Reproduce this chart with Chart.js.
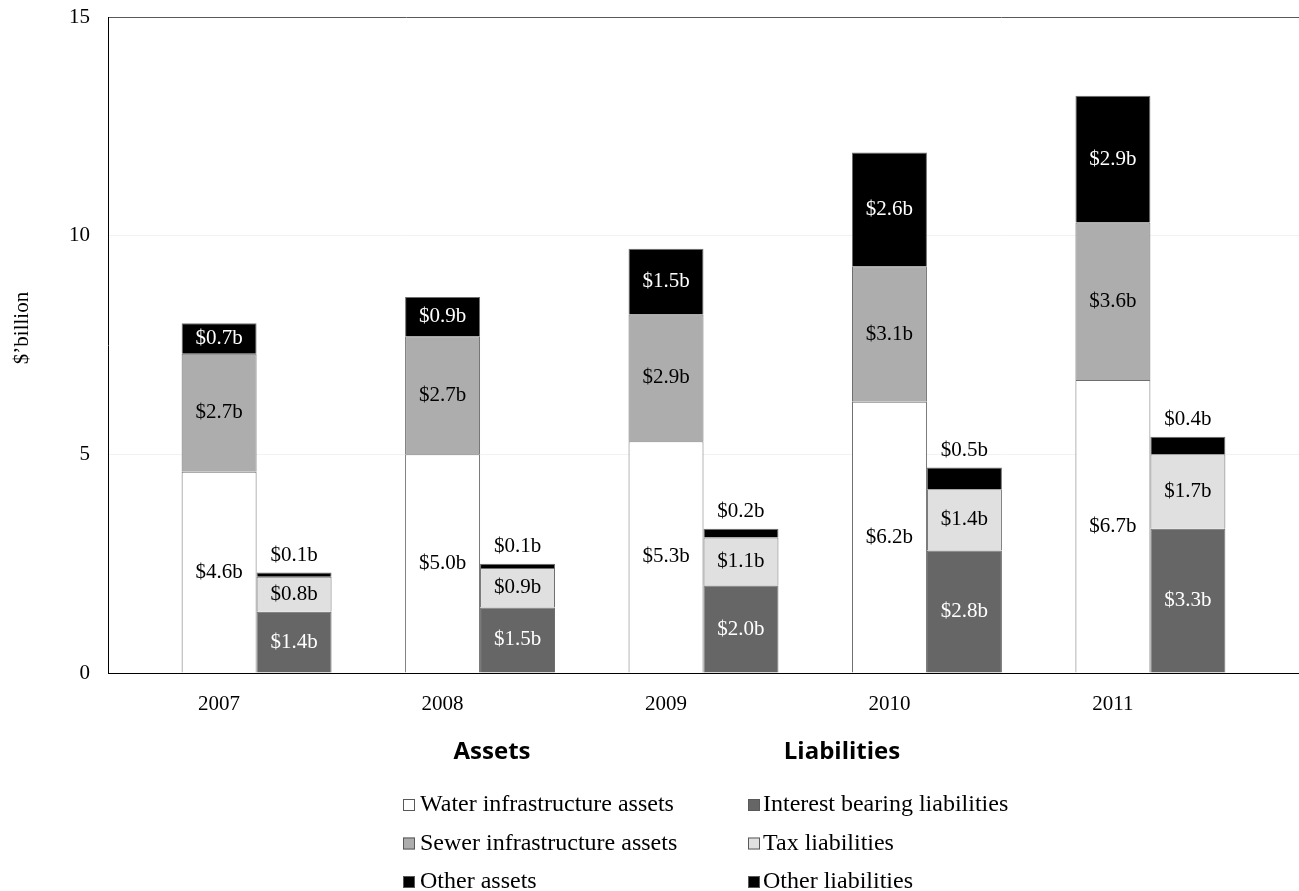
<!DOCTYPE html>
<html>
<head>
<meta charset="utf-8">
<title>Balance sheet 2007-2011</title>
<script src="https://cdn.jsdelivr.net/npm/chart.js@4.4.1/dist/chart.umd.min.js"></script>
<style>
  html, body { margin: 0; padding: 0; background: #fff; }
  canvas { display: block; }
</style>
</head>
<body>
<canvas id="chart" width="1299" height="891"></canvas>
<script>
const years = ['2007', '2008', '2009', '2010', '2011']

// assets, $ billion
const waterAssets = [4.6, 5.0, 5.3, 6.2, 6.7]
const sewerAssets = [2.7, 2.7, 2.9, 3.1, 3.6]
const otherAssets = [0.7, 0.9, 1.5, 2.6, 2.9]

// liabilities, $ billion
const interestLiabilities = [1.4, 1.5, 2.0, 2.8, 3.3]
const taxLiabilities      = [0.8, 0.9, 1.1, 1.4, 1.7]
const otherLiabilities    = [0.1, 0.1, 0.2, 0.5, 0.4]

const yTicks = [0, 5, 10, 15]

const SERIF = '"Liberation Serif", "Times New Roman", serif'
const SANS  = '"Open Sans", "Noto Sans", sans-serif'

const series = [
  { label: 'Water infrastructure assets',  data: waterAssets,         stack: 'assets',      fill: '#ffffff', text: '#000' },
  { label: 'Sewer infrastructure assets',  data: sewerAssets,         stack: 'assets',      fill: '#adadad', text: '#000' },
  { label: 'Other assets',                 data: otherAssets,         stack: 'assets',      fill: '#000000', text: '#fff' },
  { label: 'Interest bearing liabilities', data: interestLiabilities, stack: 'liabilities', fill: '#666666', text: '#fff' },
  { label: 'Tax liabilities',              data: taxLiabilities,      stack: 'liabilities', fill: '#e0e0e0', text: '#000' },
  { label: 'Other liabilities',            data: otherLiabilities,    stack: 'liabilities', fill: '#000000', text: '#000' },
]

// value labels: centred in the segment, or above the stack when the segment is thin
const barLabels = {
  id: 'barLabels',
  afterDatasetsDraw(chart) {
    const ctx = chart.ctx
    ctx.save()
    ctx.font = `21px ${SERIF}`
    ctx.textAlign = 'center'
    ctx.textBaseline = 'middle'
    chart.data.datasets.forEach((ds, i) => {
      chart.getDatasetMeta(i).data.forEach((bar, j) => {
        const v = ds.data[j]
        const txt = `$${v.toFixed(1)}b`
        if (v < 0.6) {
          ctx.fillStyle = '#000'
          ctx.fillText(txt, bar.x, bar.y - 17)
        } else {
          ctx.fillStyle = ds.labelColor
          ctx.fillText(txt, bar.x, (bar.y + bar.base) / 2)
        }
      })
    })
    ctx.restore()
  }
}

// rotated axis title, drawn by hand so it can sit a bit above the axis centre
const axisTitle = {
  id: 'axisTitle',
  afterDraw(chart) {
    const ctx = chart.ctx
    ctx.save()
    ctx.translate(22, 328)
    ctx.rotate(-Math.PI / 2)
    ctx.font = `21px ${SERIF}`
    ctx.fillStyle = '#000'
    ctx.textAlign = 'center'
    ctx.textBaseline = 'middle'
    ctx.fillText('$\u2019billion', 0, 0)
    ctx.restore()
  }
}

// two-column legend with group headings under the plot
const groupedLegend = {
  id: 'groupedLegend',
  afterDraw(chart) {
    const ctx = chart.ctx
    const cols = [
      { stack: 'assets',      title: 'Assets',      titleX: 492, boxX: 403, textX: 420 },
      { stack: 'liabilities', title: 'Liabilities', titleX: 842, boxX: 748, textX: 763 },
    ]
    ctx.save()
    cols.forEach(col => {
      ctx.font = `bold 24px ${SANS}`
      ctx.fillStyle = '#000'
      ctx.textAlign = 'center'
      ctx.textBaseline = 'alphabetic'
      ctx.fillText(col.title, col.titleX, 759)

      const items = chart.data.datasets.filter(ds => ds.stack === col.stack)
      items.forEach((ds, k) => {
        const base = 811 + k * 38.5
        ctx.fillStyle = ds.backgroundColor
        ctx.fillRect(col.boxX, base - 12, 12, 12)
        ctx.strokeStyle = '#595959'
        ctx.lineWidth = 1
        ctx.strokeRect(col.boxX + 0.5, base - 11.5, 11, 11)
        ctx.font = `24px ${SERIF}`
        ctx.fillStyle = '#000'
        ctx.textAlign = 'left'
        ctx.fillText(ds.label, col.textX, base)
      })
    })
    ctx.restore()
  }
}

new Chart(document.getElementById('chart'), {
  type: 'bar',
  data: {
    labels: years,
    datasets: series.map(s => ({
      label: s.label,
      data: s.data,
      stack: s.stack,
      backgroundColor: s.fill,
      borderColor: '#6e6e6e',
      borderWidth: 1,
      labelColor: s.text,
      categoryPercentage: 0.671,
      barPercentage: 1,
    })),
  },
  options: {
    responsive: false,
    animation: false,
    layout: { padding: { top: 17, right: 0, bottom: 178, left: 0 } },
    plugins: {
      legend: { display: false },
      tooltip: { enabled: false },
    },
    scales: {
      x: {
        stacked: true,
        grid: { display: false },
        border: { color: '#000', width: 1 },
        ticks: {
          color: '#000',
          font: { family: SERIF, size: 21 },
          padding: 11,
          labelOffset: -37.5,
          maxRotation: 0,
        },
        // widen the outer margins a little beyond the default half-category
        afterBuildTicks: (scale) => {
          scale._startValue -= 0.165
          scale._valueRange += 0.33
        },
        afterFit: (scale) => { scale.height = 40 },
      },
      y: {
        stacked: true,
        min: 0,
        max: 15,
        afterBuildTicks: (scale) => { scale.ticks = yTicks.map(v => ({ value: v })) },
        afterFit: (scale) => {
          scale.width = 108
          // top label may overhang the frame; layout padding handles the room
          scale.paddingTop = 0
          scale.paddingBottom = 0
        },
        grid: {
          drawTicks: false,
          color: (c) => c.tick && c.tick.value === 15 ? '#595959' : '#f2f2f2',
        },
        border: { color: '#000', width: 1 },
        ticks: {
          color: '#000',
          font: { family: SERIF, size: 21 },
          padding: 18,
        },
      },
    },
  },
  plugins: [barLabels, axisTitle, groupedLegend],
})
</script>
</body>
</html>
